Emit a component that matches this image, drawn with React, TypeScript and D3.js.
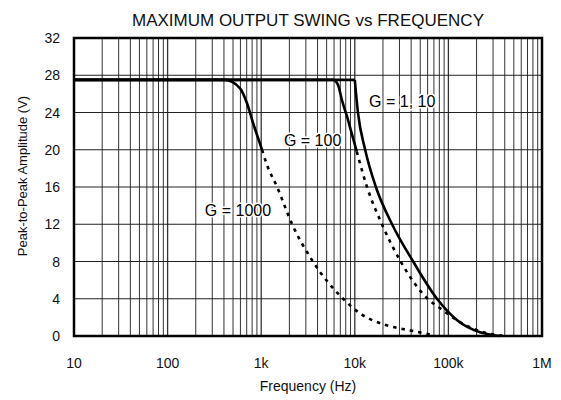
import {useEffect, useRef} from 'react';
import * as d3 from 'd3';

const W = 561;
const H = 400;

const xTicks = [10, 100, 1e3, 1e4, 1e5, 1e6];
const xTickLabels = ['10', '100', '1k', '10k', '100k', '1M'];
const yTicks = [0, 4, 8, 12, 16, 20, 24, 28, 32];

// G = 1, 10 (all solid)
const g1Freq = [10, 10000, 10800, 12900, 16800, 25000, 42000, 75500, 124000, 218000, 356000];
const g1Volts = [27.5, 27.5, 24.0, 20.0, 16.0, 12.0, 8.0, 4.0, 1.7, 0.4, 0];

// G = 100
const g100SolidFreq = [10, 5850, 6600, 7300, 8300, 9300, 10500];
const g100SolidVolts = [27.5, 27.5, 27.0, 25.3, 23.5, 21.7, 19.8];
const g100DotFreq = [10500, 13500, 19500, 30900, 60000, 81000, 104000, 133000, 258000, 400000];
const g100DotVolts = [19.8, 16.0, 12.0, 8.0, 4.0, 3.0, 2.2, 1.5, 0.3, 0];

// G = 1000
const g1000SolidFreq = [10, 410, 594, 705, 817, 1020];
const g1000SolidVolts = [27.5, 27.5, 26.6, 25.0, 22.9, 20.0];
const g1000DotFreq = [1020, 1150, 1480, 2140, 3570, 7500, 11900, 21000, 39000, 68000];
const g1000DotVolts = [20.0, 18.4, 16.0, 12.0, 8.0, 4.0, 2.3, 1.2, 0.6, 0.1];

const labels = [
  {text: 'G = 1, 10', f: 14200, v: 24.6},
  {text: 'G = 100', f: 1750, v: 20.4},
  {text: 'G = 1000', f: 250, v: 12.9},
];

const FONT = '"Liberation Sans", Arial, Helvetica, sans-serif';

const App = () => {
  const ref = useRef<SVGSVGElement>(null);

  useEffect(() => {
    const svg = d3.select(ref.current);
    svg.selectAll('*').remove();

    const left = 74, right = 542, top = 38, bottom = 336;
    const x = d3.scaleLog().domain([10, 1e6]).range([left, right]);
    const y = d3.scaleLinear().domain([0, 32]).range([bottom, top]);

    // title
    svg.append('text')
      .attr('x', 308).attr('y', 26)
      .attr('text-anchor', 'middle')
      .style('font-family', FONT).style('font-size', '17px')
      .attr('fill', '#111')
      .text('MAXIMUM OUTPUT SWING vs FREQUENCY');

    const grid = svg.append('g');

    // vertical grid: every minor value in each decade
    const minor: number[] = [];
    for (let d = 10; d < 1e6; d *= 10) {
      for (let k = 1; k < 10; k++) minor.push(d * k);
    }
    grid.selectAll('line.v')
      .data(minor)
      .enter()
      .append('line')
      .attr('x1', (d) => x(d)).attr('x2', (d) => x(d))
      .attr('y1', top).attr('y2', bottom)
      .attr('stroke', '#333')
      .attr('stroke-width', (d) => (xTicks.includes(d) ? 1.3 : 1));

    grid.selectAll('line.h')
      .data(yTicks)
      .enter()
      .append('line')
      .attr('x1', left).attr('x2', right)
      .attr('y1', (d) => y(d)).attr('y2', (d) => y(d))
      .attr('stroke', '#222')
      .attr('stroke-width', 1.2);

    // frame
    svg.append('rect')
      .attr('x', left).attr('y', top)
      .attr('width', right - left).attr('height', bottom - top)
      .attr('fill', 'none').attr('stroke', '#000').attr('stroke-width', 2.5);

    // y tick labels
    svg.selectAll('text.yt')
      .data(yTicks)
      .enter()
      .append('text')
      .attr('x', 60).attr('y', (d) => y(d) + 5)
      .attr('text-anchor', 'end')
      .style('font-family', FONT).style('font-size', '14px')
      .attr('fill', '#111')
      .text((d) => String(d));

    // x tick labels
    svg.selectAll('text.xt')
      .data(xTicks)
      .enter()
      .append('text')
      .attr('x', (d) => x(d)).attr('y', 368)
      .attr('text-anchor', 'middle')
      .style('font-family', FONT).style('font-size', '14px')
      .attr('fill', '#111')
      .text((_, i) => xTickLabels[i]);

    svg.append('text')
      .attr('x', 308).attr('y', 391)
      .attr('text-anchor', 'middle')
      .style('font-family', FONT).style('font-size', '14px')
      .attr('fill', '#111')
      .text('Frequency (Hz)');

    svg.append('text')
      .attr('transform', `translate(27,176) rotate(-90)`)
      .attr('text-anchor', 'middle')
      .style('font-family', FONT).style('font-size', '13px')
      .attr('fill', '#111')
      .text('Peak-to-Peak Amplitude (V)');

    const line = d3.line<[number, number]>()
      .x((d) => x(d[0]))
      .y((d) => y(d[1]))
      .curve(d3.curveMonotoneX);

    const zip = (f: number[], v: number[]) => f.map((d, i) => [d, v[i]] as [number, number]);

    const curves = [
      {pts: zip(g1Freq.slice(0, 2), g1Volts.slice(0, 2)), dash: null},
      {pts: zip(g1Freq.slice(1), g1Volts.slice(1)), dash: null},
      {pts: zip(g100SolidFreq, g100SolidVolts), dash: null},
      {pts: zip(g100DotFreq, g100DotVolts), dash: '3.5 5'},
      {pts: zip(g1000SolidFreq, g1000SolidVolts), dash: null},
      {pts: zip(g1000DotFreq, g1000DotVolts), dash: '3.5 5'},
    ];

    svg.selectAll('path.curve')
      .data(curves)
      .enter()
      .append('path')
      .attr('d', (d) => line(d.pts))
      .attr('fill', 'none')
      .attr('stroke', '#000')
      .attr('stroke-width', 2.6)
      .attr('stroke-dasharray', (d) => d.dash);

    svg.selectAll('text.lbl')
      .data(labels)
      .enter()
      .append('text')
      .attr('x', (d) => x(d.f)).attr('y', (d) => y(d.v))
      .style('font-family', FONT).style('font-size', '16px')
      .attr('fill', '#000')
      .attr('stroke', '#fff').attr('stroke-width', 3).attr('paint-order', 'stroke')
      .text((d) => d.text);
  }, []);

  return (
    <svg
      ref={ref}
      width={W}
      height={H}
      style={{position: 'absolute', left: 0, top: 0, background: '#fff'}}
    />
  );
};

export default App;
